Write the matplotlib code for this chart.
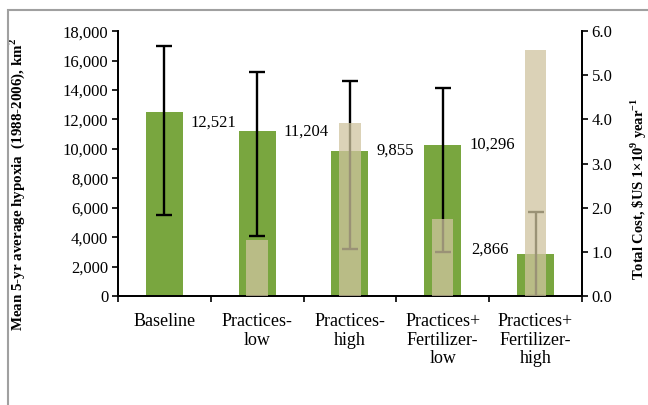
import matplotlib.pyplot as plt
import numpy as np
from matplotlib.patches import Rectangle
from matplotlib.ticker import FuncFormatter, FixedLocator

plt.rcParams['font.family'] = ['Liberation Serif', 'DejaVu Serif']

# --- Data ---
scenarios = ['Baseline', 'Practices-\nlow', 'Practices-\nhigh',
             'Practices+\nFertilizer-\nlow', 'Practices+\nFertilizer-\nhigh']
hypoxia_area = [12521, 11204, 9855, 10296, 2866]        # km2
hypoxia_low = [5500, 4070, 3190, 2970, 0]
hypoxia_high = [17000, 15240, 14600, 14130, 5690]
total_cost = [0.0, 1.27, 3.91, 1.74, 5.58]              # $US 1e9 per year

x = np.arange(len(scenarios))
err_lo = [v - lo for v, lo in zip(hypoxia_area, hypoxia_low)]
err_hi = [hi - v for v, hi in zip(hypoxia_area, hypoxia_high)]

green = '#79a63f'
tan = '#cfc49f'

fig = plt.figure(figsize=(6.48, 4.05), dpi=100)
ax = fig.add_axes([0.182, 0.269, 0.716, 0.654])
ax2 = ax.twinx()

# hypoxia bars with error bars
ax.bar(x, hypoxia_area, width=0.4, color=green, zorder=1)
ax.errorbar(x, hypoxia_area, yerr=[err_lo, err_hi], fmt='none',
            ecolor='black', elinewidth=1.7, capsize=6, capthick=1.7, zorder=2)

# cost bars drawn on top, semi-transparent
ax2.bar(x, total_cost, width=0.23, color=tan, alpha=0.75, zorder=3)
ax2.set_zorder(ax.get_zorder() + 1)
ax2.patch.set_visible(False)

# value labels
for i, v in enumerate(hypoxia_area):
    txt = f'{v:,}'
    if i == len(hypoxia_area) - 1:
        ax.annotate(txt, (x[i], v), xytext=(-19, 3), textcoords='offset points',
                    ha='right', va='center', fontsize=12, zorder=5)
    else:
        ax.annotate(txt, (x[i], v), xytext=(19, -8 if i == 0 else 0),
                    textcoords='offset points', ha='left', va='center',
                    fontsize=12, zorder=5)

ax.set_xlim(-0.5, len(scenarios) - 0.5)
ax.set_ylim(0, 18000)
ax.set_yticks(np.arange(0, 18001, 2000))
ax.yaxis.set_major_formatter(FuncFormatter(lambda v, p: f'{int(v):,}'))
ax2.set_ylim(0, 6)
ax2.set_yticks(np.arange(0, 6.01, 1))
ax2.yaxis.set_major_formatter(FuncFormatter(lambda v, p: f'{v:.1f}'))

# category labels centred, ticks between categories
ax.set_xticks(x)
ax.set_xticklabels(scenarios, fontsize=13, linespacing=1.14)
ax.tick_params(axis='x', length=0, pad=12)
ax.xaxis.set_minor_locator(FixedLocator(np.arange(-0.5, len(scenarios), 1)))
ax.tick_params(axis='x', which='minor', length=4, width=1.2, direction='out')

ax.tick_params(axis='y', labelsize=12, length=4, width=1.2, direction='out', pad=3)
ax2.tick_params(axis='y', labelsize=12, length=4, width=1.2, direction='out', pad=3)

for a in (ax, ax2):
    a.spines['top'].set_visible(False)
    for s in ('left', 'right', 'bottom'):
        a.spines[s].set_linewidth(1.3)

ax.set_ylabel('Mean 5-yr average hypoxia  (1988-2006), km$^\\mathregular{2}$',
              fontsize=10.8, fontweight='bold')
ax.yaxis.set_label_coords(-0.196, 0.42)
ax2.set_ylabel('Total Cost, \\$US 1×10$^\\mathregular{9}$ year$^\\mathregular{-1}$',
               fontsize=10.5, fontweight='bold')
ax2.yaxis.set_label_coords(1.100, 0.405)

# outer frame
fig.patches.append(Rectangle((8 / 648, -0.1), 1.0, 1 - 10 / 405 + 0.1,
                             transform=fig.transFigure, fill=False,
                             edgecolor='#a0a0a0', linewidth=1.5))

plt.savefig('out.png', dpi=100)
